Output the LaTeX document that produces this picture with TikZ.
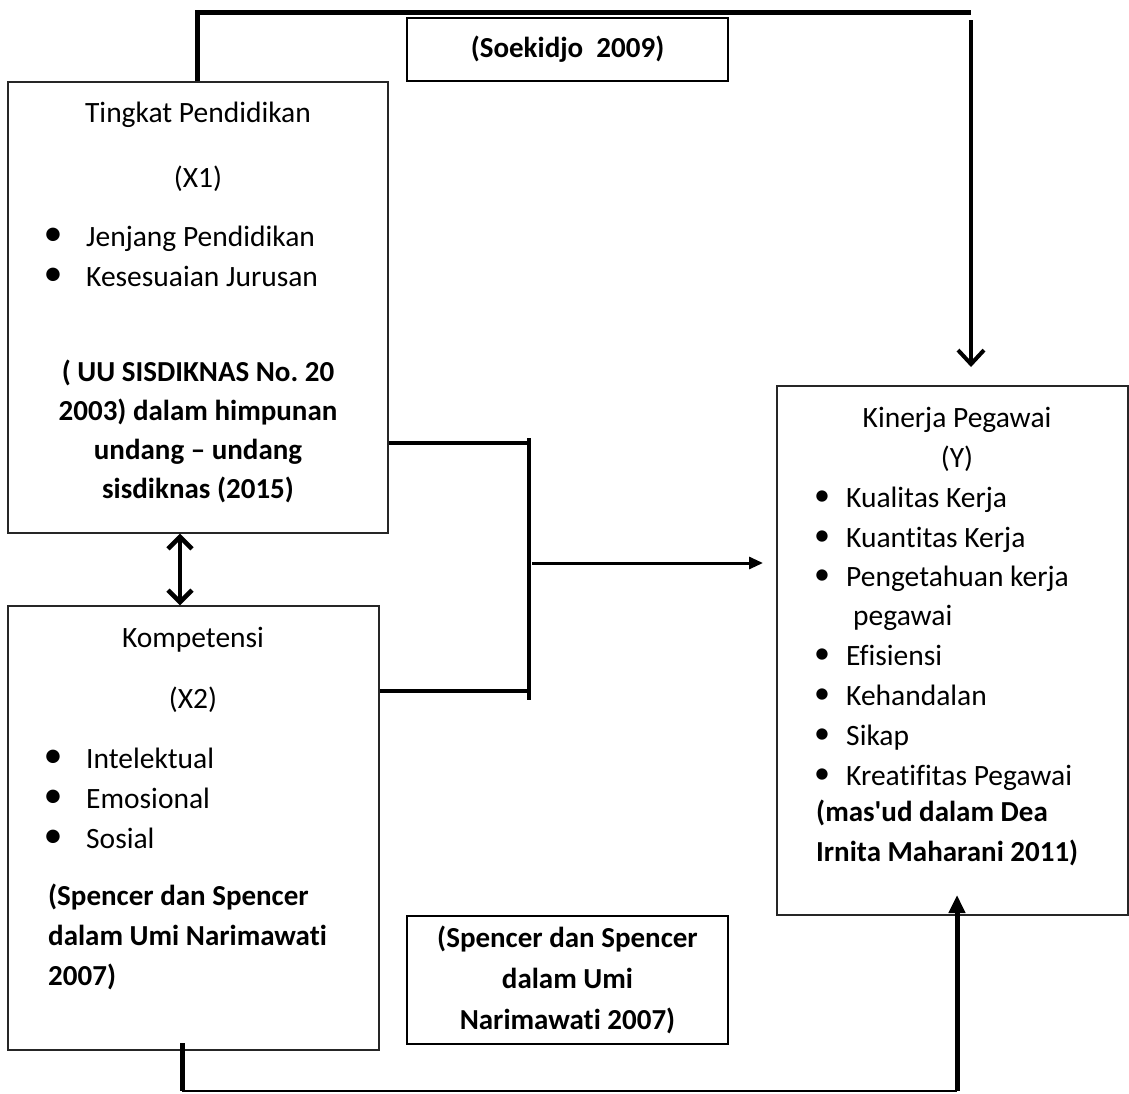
\documentclass[tikz,border=0pt]{standalone}
\usepackage{fontspec}
\setmainfont{Carlito}[Ligatures={TeX,NoCommon}]
\usetikzlibrary{arrows.meta}
\frenchspacing

\tikzset{
  frame/.style={draw=black!85, line width=1.4pt, inner sep=0pt},
  refbox/.style={draw, line width=2.6pt, inner sep=0pt},
  txt/.style={inner sep=0pt, font=\fontsize{29.5}{40}\selectfont},
  boldtxt/.style={txt, font=\fontsize{29}{40}\selectfont\bfseries},
  dot/.style={inner sep=0pt, font=\fontsize{38}{38}\selectfont},
  thickline/.style={line width=5pt},
  joinline/.style={line width=3.6pt},
}

\begin{document}
\begin{tikzpicture}[x=1pt, y=-1pt]
  \useasboundingbox (0,0) rectangle (1129,1093);

  % the boxes
  \node[frame, minimum width=380pt, minimum height=451pt] (x1) at (198,307.5) {};
  \node[frame, minimum width=371pt, minimum height=444pt] (x2) at (193.5,828) {};
  \node[frame, minimum width=351pt, minimum height=529pt] (y) at (952.5,650.5) {};
  \node[refbox, minimum width=321pt, minimum height=63pt] (soekidjo) at (567.5,49.5) {};
  \node[refbox, minimum width=321pt, minimum height=128pt] (spencer) at (567.5,980) {};

  % texts of X1
  \node[txt, anchor=base] (x1title) at (198,122) {Tingkat Pendidikan};
  \node[txt, anchor=base] (x1var) at (198,187) {(X1)};
  \foreach \yy/\t [count=\i] in {246/Jenjang Pendidikan, 286/Kesesuaian Jurusan} {
    \node[dot, anchor=center] (x1dot\i) at (53,\yy-9) {\textbullet};
    \node[txt, anchor=base west] (x1item\i) at (86,\yy) {\t};
  }
  \node[boldtxt, align=center, font=\fontsize{29}{39}\selectfont\bfseries] (x1src) at (198,431)
    {( UU SISDIKNAS No. 20\\2003) dalam himpunan\\undang – undang\\sisdiknas (2015)};

  % texts of X2
  \node[txt, anchor=base] (x2title) at (193,647) {Kompetensi};
  \node[txt, anchor=base] (x2var) at (193,708) {(X2)};
  \foreach \yy/\t [count=\i] in {768/Intelektual, 808/Emosional, 848/Sosial} {
    \node[dot, anchor=center] (x2dot\i) at (53,\yy-9) {\textbullet};
    \node[txt, anchor=base west] (x2item\i) at (86,\yy) {\t};
  }
  \node[boldtxt, align=left, anchor=west] (x2src) at (48,937)
    {(Spencer dan Spencer\\dalam Umi Narimawati\\2007)};

  % texts of Y
  \node[txt, anchor=base] (ytitle) at (957,427) {Kinerja Pegawai};
  \node[txt, anchor=base] (yvar) at (957,467) {(Y)};
  \foreach \yy/\t [count=\i] in {507/Kualitas Kerja, 547/Kuantitas Kerja, 586/Pengetahuan kerja,
      665/Efisiensi, 705/Kehandalan, 745/Sikap, 785/Kreatifitas Pegawai} {
    \node[dot, anchor=center, font=\fontsize{32}{32}\selectfont] (ydot\i) at (822,\yy-9) {\textbullet};
    \node[txt, anchor=base west] (yitem\i) at (846,\yy) {\t};
  }
  \node[txt, anchor=base west] (yitem3b) at (853,625) {pegawai};
  \node[boldtxt, align=left, anchor=west] (ysrc) at (816,833)
    {(mas\textquotesingle ud dalam Dea\\Irnita Maharani 2011)};

  % texts of the two reference boxes
  \node[boldtxt] (soekidjotxt) at (soekidjo) {(Soekidjo\ \ 2009)};
  \node[boldtxt, align=center, font=\fontsize{29}{41}\selectfont\bfseries] (spencertxt) at (spencer)
    {(Spencer dan Spencer\\dalam Umi\\Narimawati 2007)};

  % connectors
  \coordinate (topl) at (197,12);
  \coordinate (topr) at (971,12);
  \coordinate (toptip) at (971,367);
  \draw[thickline] (x1.north -| topl) -- (topl) -- (topr);
  \draw[joinline, -{Straight Barb[length=14pt, width=26pt, line width=4pt]}] (971,20) -- (toptip);

  \draw[joinline, {Straight Barb[length=12pt, width=24pt, line width=4.5pt]}-{Straight Barb[length=12pt, width=24pt, line width=4.5pt]}]
    (x1.south -| 180,0) -- (x2.north -| 180,0);

  \coordinate (bartop) at (529,438);
  \coordinate (barbot) at (529,700);
  \draw[joinline] (bartop) -- (barbot);
  \draw[joinline] (x1.east |- 0,443) -- (529,443);
  \draw[joinline] (x2.east |- 0,691) -- (529,691);
  \coordinate (midtip) at (763,563);
  \draw[line width=3pt, -{Triangle[length=14pt, width=12pt]}] (532,563) -- (midtip);

  \coordinate (botl) at (182,1091);
  \coordinate (botr) at (957,1091);
  \coordinate (bottip) at (957,895);
  \draw[thickline] (182,1043) -- (botl);
  \draw[line width=2pt] (botl) -- (botr);
  \draw[thickline, -{Triangle[length=18pt, width=16pt]}] (botr) -- (bottip);
\end{tikzpicture}
\end{document}
